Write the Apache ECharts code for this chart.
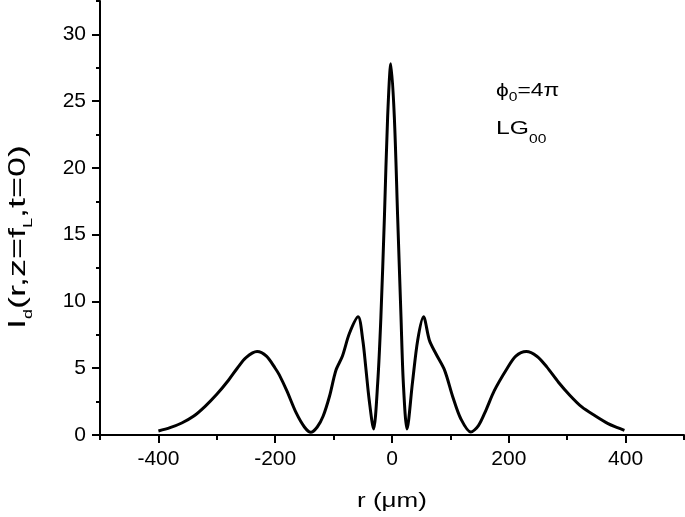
<!DOCTYPE html>
<html>
<head>
    <meta charset="utf-8">
    <title>I_d(r, z=f_L, t=0)</title>
    <style>
        html, body { margin: 0; padding: 0; background: #fff; }
        #main { width: 685px; height: 517px; }
    </style>
</head>
<body>
<div id="main"></div>

<script src="https://cdn.jsdelivr.net/npm/echarts@6/dist/echarts.min.js"></script>
<script>
    // r in µm
    var rValues = [-400, -380, -360, -340, -320, -300, -280, -265, -250, -231, -215, -200, -193, -180, -164, -150,
        -139, -128, -118, -107, -96, -85, -73, -58, -50, -45, -39, -31.5, -24.5, -19, -13, -7.5, -2,
        4, 9.7, 15.4, 19.4, 25.7, 35, 44, 54, 64, 75, 90, 104, 118, 135, 148, 161, 175, 196, 212, 230,
        248, 265, 285, 304, 325, 349, 370, 386, 398];
    // intensity I_d
    var iValues = [0.3, 0.55, 0.9, 1.4, 2.15, 3.05, 4.1, 5.0, 5.8, 6.25, 5.9, 5.0, 4.5, 3.3, 1.65, 0.6,
        0.2, 0.6, 1.4, 2.9, 4.85, 5.9, 7.6, 8.85, 7.1, 5.1, 2.6, 0.45, 3.9, 8.85, 16.3, 23.8, 27.8,
        23.8, 16.3, 8.85, 3.9, 0.45, 3.9, 7.1, 8.85, 7.1, 6.1, 4.86, 2.87, 1.2, 0.22, 0.7, 1.87, 3.3, 4.9, 5.9, 6.25,
        5.9, 5.1, 3.95, 3.0, 2.1, 1.4, 0.85, 0.55, 0.35];

    var xRange = [-500, 500];      // full axis, short ticks every 100
    var xLabelRange = [-400, 400]; // labelled long ticks every 200
    var yRange = [0, 32.5];        // short ticks every 2.5
    var yLabelRange = [0, 30];     // labelled long ticks every 5

    var font = "'Liberation Sans', Arial, sans-serif";

    var myChart = echarts.init(document.getElementById('main'));

    var data = [];
    for (var i = 0; i < rValues.length; i++) {
        data.push([rValues[i], iValues[i]]);
    }

    var tickStyle = {color: '#000', width: 2};
    var labelStyle = {show: true, margin: 14, color: '#000', fontSize: 21, fontFamily: font};

    var option = {
        backgroundColor: '#fff',
        animation: false,
        grid: [
            {left: 100, right: 1, top: 1, bottom: 82},
            {left: 158.4, right: 59.4, top: 1, bottom: 82},
            {left: 100, right: 1, top: 34.4, bottom: 82}
        ],
        xAxis: [
            {
                gridIndex: 0, type: 'value', min: xRange[0], max: xRange[1], interval: 100,
                axisLine: {show: true, onZero: false, lineStyle: tickStyle},
                axisTick: {show: true, length: 5, lineStyle: tickStyle},
                axisLabel: {show: false},
                splitLine: {show: false}
            },
            {
                gridIndex: 1, type: 'value', min: xLabelRange[0], max: xLabelRange[1], interval: 200,
                axisLine: {show: false, onZero: false},
                axisTick: {show: true, length: 8, lineStyle: tickStyle},
                axisLabel: labelStyle,
                splitLine: {show: false}
            },
            {gridIndex: 2, type: 'value', min: xRange[0], max: xRange[1], show: false}
        ],
        yAxis: [
            {
                gridIndex: 0, type: 'value', min: yRange[0], max: yRange[1], interval: 2.5,
                axisLine: {show: true, onZero: false, lineStyle: tickStyle},
                axisTick: {show: true, length: 4, lineStyle: tickStyle},
                axisLabel: {show: false},
                splitLine: {show: false}
            },
            {gridIndex: 1, type: 'value', min: yRange[0], max: yRange[1], show: false},
            {
                gridIndex: 2, type: 'value', min: yLabelRange[0], max: yLabelRange[1], interval: 5,
                axisLine: {show: false, onZero: false},
                axisTick: {show: true, length: 8, lineStyle: tickStyle},
                axisLabel: labelStyle,
                splitLine: {show: false}
            }
        ],
        graphic: [
            {
                // y axis title, reads bottom to top
                type: 'text',
                x: 6.5, y: 237,
                rotation: Math.PI / 2,
                scaleX: 1.5,
                style: {
                    text: '{m|I}{s|d}{m|(r,z=f}{s|L}{m|,t=0)}',
                    align: 'center', verticalAlign: 'top',
                    fill: '#000',
                    rich: {
                        m: {fontSize: 24, lineHeight: 24, verticalAlign: 'top', fontFamily: font, fill: '#000'},
                        s: {fontSize: 12, lineHeight: 12, verticalAlign: 'top', fontFamily: font, fill: '#000', padding: [16, 0, 0, 0]}
                    }
                }
            },
            {
                // x axis title
                type: 'text',
                x: 392, y: 501,
                scaleX: 1.3,
                style: {
                    text: 'r (μm)',
                    align: 'center', verticalAlign: 'middle',
                    fill: '#000', fontSize: 20, fontFamily: font
                }
            },
            {
                type: 'text',
                x: 496, y: 81.5,
                scaleX: 1.2,
                style: {
                    text: '{m|ϕ}{s|0}{m|=4π}',
                    align: 'left', verticalAlign: 'top',
                    fill: '#000',
                    rich: {
                        m: {fontSize: 19, lineHeight: 19, verticalAlign: 'top', fontFamily: font, fill: '#000'},
                        s: {fontSize: 13, lineHeight: 13, verticalAlign: 'top', fontFamily: font, fill: '#000', padding: [9, 0, 0, 0]}
                    }
                }
            },
            {
                type: 'text',
                x: 496, y: 119.5,
                scaleX: 1.3,
                style: {
                    text: '{m|LG}{s|00}',
                    align: 'left', verticalAlign: 'top',
                    fill: '#000',
                    rich: {
                        m: {fontSize: 19, lineHeight: 19, verticalAlign: 'top', fontFamily: font, fill: '#000'},
                        s: {fontSize: 12, lineHeight: 12, verticalAlign: 'top', fontFamily: font, fill: '#000', padding: [14, 0, 0, 0]}
                    }
                }
            }
        ],
        series: [
            {
                type: 'line',
                xAxisIndex: 0,
                yAxisIndex: 0,
                data: data,
                showSymbol: false,
                smooth: 0.3,
                lineStyle: {color: '#000', width: 3},
                silent: true
            }
        ]
    };

    myChart.setOption(option);
</script>
</body>
</html>
